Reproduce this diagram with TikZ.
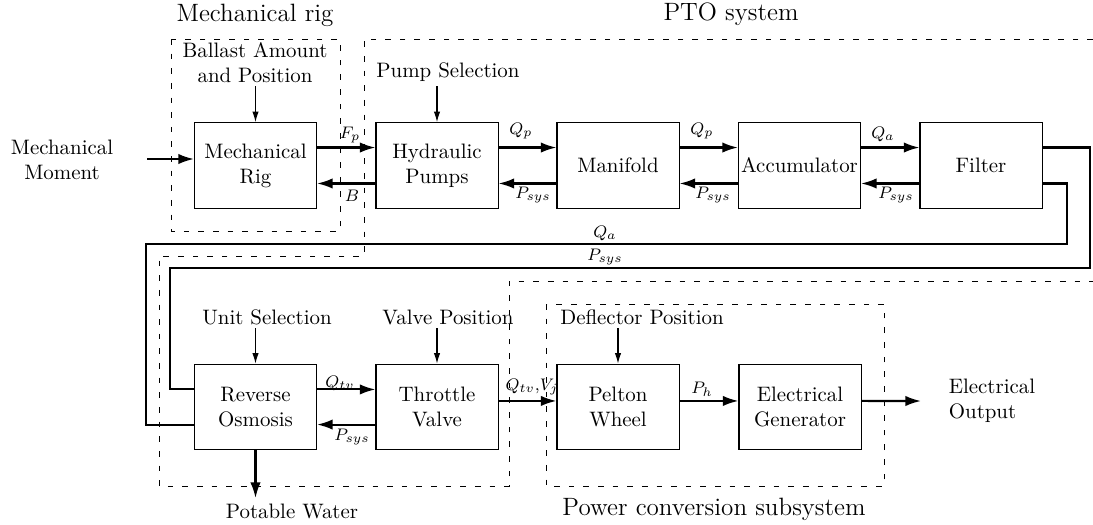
\documentclass[tikz,border=0pt]{standalone}
\usetikzlibrary{arrows.meta}
\begin{document}
\begin{tikzpicture}[x=0.4785pt,y=-0.4785pt,
  blk/.style={draw,line width=0.5pt,minimum width=58.4pt,minimum height=41pt,inner sep=0pt,align=center},
  txt/.style={inner sep=2.5pt,align=center},
  lbl/.style={inner sep=0pt,font=\footnotesize},
  ttl/.style={inner sep=0pt,font=\large},
  conn/.style={line width=1pt,-{Latex[length=7.5pt,width=5pt]}},
  ctrl/.style={line width=0.5pt,-{Latex[length=5pt,width=3pt]}},
  fb/.style={line width=1pt},
  grp/.style={line width=0.4pt,dash pattern=on 2.7pt off 4.3pt}]
\useasboundingbox (0,0) rectangle (1093,524);

% group outlines
\draw[grp] (171,39) rectangle (340,231);
\draw[grp] (1093,39) -- (364,39) -- (364,256) -- (159,256) -- (159,486) -- (509,486) -- (509,281) -- (1093,281);
\draw[grp] (546,304) rectangle (884,486);

% titles
\node[ttl] (t1) at (255,15) {Mechanical rig};
\node[ttl] (t2) at (731,14) {PTO system};
\node[ttl] (t3) at (714,509) {Power conversion subsystem};

% blocks
\node[blk] (mr)  at (255.5,165.5) {Mechanical\\Rig};
\node[blk] (hp)  at (437,165.5) {Hydraulic\\Pumps};
\node[blk] (mf)  at (618,165.5) {Manifold};
\node[blk] (acc) at (799.5,165.5) {Accumulator};
\node[blk] (fil) at (981,165.5) {Filter};
\node[blk] (ro)  at (255.5,407) {Reverse\\Osmosis};
\node[blk] (tv)  at (437,407) {Throttle\\Valve};
\node[blk] (pw)  at (618,407) {Pelton\\Wheel};
\node[blk] (eg)  at (800,407) {Electrical\\Generator};

% external texts
\node[txt] (mm)  at (62,160) {Mechanical\\Moment};
\node[txt] (bal) at (255,63) {Ballast Amount\\and Position};
\node[txt] (ps)  at (448,72) {Pump Selection};
\node[txt] (us)  at (267,317) {Unit Selection};
\node[txt] (vp)  at (448,317) {Valve Position};
\node[txt] (dp)  at (642,317) {Deflector Position};
\node[txt,align=left] (eo) at (992,401) {Electrical\\Output};
\node[txt] (pot) at (292,511) {Potable Water};

% control inputs
\draw[ctrl] ([yshift=17.2pt]mr.north) -- (mr.north);
\draw[ctrl] ([yshift=17.2pt]hp.north) -- (hp.north);
\draw[ctrl] ([yshift=17pt]ro.north) -- (ro.north);
\draw[ctrl] ([yshift=17pt]tv.north) -- (tv.north);
\draw[ctrl] ([yshift=17pt]pw.north) -- (pw.north);

% input / outputs
\coordinate (mmin) at (147,159);
\draw[conn] (mmin) -- (mmin -| mr.west);
\coordinate (eoc) at (921,401);
\draw[conn] ([yshift=2.9pt]eg.east) -- (eoc);
\coordinate (potc) at (255.5,498);
\draw[conn] (ro.south) -- (potc);

% top row
\draw[conn] ([yshift=8.6pt]mr.east) -- ([yshift=8.6pt]hp.west);
\draw[conn] ([yshift=-8.6pt]hp.west) -- ([yshift=-8.6pt]mr.east);
\draw[conn] ([yshift=8.6pt]hp.east) -- ([yshift=8.6pt]mf.west);
\draw[conn] ([yshift=-8.6pt]mf.west) -- ([yshift=-8.6pt]hp.east);
\draw[conn] ([yshift=8.6pt]mf.east) -- ([yshift=8.6pt]acc.west);
\draw[conn] ([yshift=-8.6pt]acc.west) -- ([yshift=-8.6pt]mf.east);
\draw[conn] ([yshift=8.6pt]acc.east) -- ([yshift=8.6pt]fil.west);
\draw[conn] ([yshift=-8.6pt]fil.west) -- ([yshift=-8.6pt]acc.east);

% bottom row
\draw[conn] ([yshift=8.4pt]ro.east) -- ([yshift=8.4pt]tv.west);
\draw[conn] ([yshift=-8.4pt]tv.west) -- ([yshift=-8.4pt]ro.east);
\draw[conn] ([yshift=2.9pt]tv.east) -- ([yshift=2.9pt]pw.west);
\draw[conn] ([yshift=2.9pt]pw.east) -- ([yshift=2.9pt]eg.west);

% feedback lines from filter to reverse osmosis
\coordinate (fbB) at (170,268);
\coordinate (fbA) at (146,244);
\draw[fb] ([yshift=8.6pt]fil.east) -- ++(47,0) |- (fbB) |- ([yshift=8.6pt]ro.west);
\draw[fb] ([yshift=-8.6pt]fil.east) -- ++(24,0) |- (fbA) |- ([yshift=-8.6pt]ro.west);

% connector labels
\node[lbl] (lfp) at (350,135) {$F_p$};
\node[lbl] (lb)  at (352,196) {$B$};
\node[lbl] (lq1) at (521,131) {$Q_p$};
\node[lbl] (lp1) at (533,195) {$P_{sys}$};
\node[lbl] (lq2) at (702,131) {$Q_p$};
\node[lbl] (lp2) at (713,195) {$P_{sys}$};
\node[lbl] (lq3) at (883,134) {$Q_a$};
\node[lbl] (lp3) at (896,195) {$P_{sys}$};
\node[lbl] (lq4) at (605,233) {$Q_a$};
\node[lbl] (lp4) at (605,257) {$P_{sys}$};
\node[lbl] (lq5) at (340,383) {$Q_{tv}$};
\node[lbl] (lp5) at (352,437) {$P_{sys}$};
\node[lbl] (lq6) at (532,387) {$Q_{tv}$,$V_j$};
\node[lbl] (lph) at (702,389) {$P_h$};
\end{tikzpicture}
\end{document}
